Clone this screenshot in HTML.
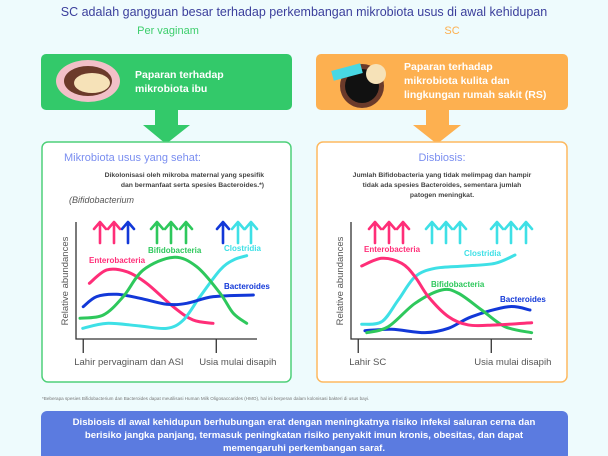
<!DOCTYPE html>
<html><head><meta charset="utf-8"><style>
body{margin:0;width:608px;height:456px;overflow:hidden;background:#eefbfd;font-family:"Liberation Sans",sans-serif;}
svg{display:block}
</style></head><body>
<svg id="s" width="608" height="456" viewBox="0 0 608 456" xmlns="http://www.w3.org/2000/svg" font-family="Liberation Sans, sans-serif">
<rect width="608" height="456" fill="#eefbfd"/>
<text x="304" y="16" text-anchor="middle" font-size="12.5" fill="#3b3f9c">SC adalah gangguan besar terhadap perkembangan mikrobiota usus di awal kehidupan</text>
<text x="168" y="34" text-anchor="middle" font-size="11" fill="#3dce6c">Per vaginam</text>
<text x="452" y="34" text-anchor="middle" font-size="11" fill="#fdb050">SC</text>

<g>
<rect x="41" y="54" width="251" height="56" rx="5" fill="#33c96a"/>
<ellipse cx="88" cy="81" rx="32" ry="21" fill="#f2c0c8"/>
<ellipse cx="88" cy="81" rx="24" ry="15" fill="#6b3a2a"/>
<ellipse cx="92" cy="83" rx="18" ry="10" fill="#f6e2b8"/>
<text x="135" y="78" font-size="10.5" font-weight="bold" fill="#fff">Paparan terhadap</text>
<text x="135" y="92" font-size="10.5" font-weight="bold" fill="#fff">mikrobiota ibu</text>
</g>
<g>
<rect x="316" y="54" width="252" height="56" rx="5" fill="#fdb050"/>
<circle cx="362" cy="86" r="22" fill="#6b3a2a"/>
<circle cx="362" cy="86" r="17" fill="#111"/>
<rect x="332" y="67" width="30" height="10" fill="#48d8e4" transform="rotate(-15 347 72)"/>
<circle cx="376" cy="74" r="10" fill="#f6e2b8"/>
<text x="404" y="70" font-size="10.5" font-weight="bold" fill="#fff">Paparan terhadap</text>
<text x="404" y="84" font-size="10.5" font-weight="bold" fill="#fff">mikrobiota kulita dan</text>
<text x="404" y="98" font-size="10.5" font-weight="bold" fill="#fff">lingkungan rumah sakit (RS)</text>
</g>
<polygon points="155,110 178,110 178,125 190,125 166,144 143,125 155,125" fill="#33c96a"/>
<polygon points="426,110 449,110 449,125 461,125 437,144 413,125 426,125" fill="#fdb050"/>

<rect x="42" y="142" width="249" height="240" rx="6" fill="#fff" stroke="#4fd07a" stroke-width="1.5"/>
<rect x="317" y="142" width="250" height="240" rx="6" fill="#fff" stroke="#fdb960" stroke-width="1.5"/>

<text x="64" y="161" font-size="11" fill="#7a8ef0">Mikrobiota usus yang sehat:</text>
<text x="264" y="177" text-anchor="end" font-size="6.8" font-weight="bold" fill="#444">Dikolonisasi oleh mikroba maternal yang spesifik</text>
<text x="264" y="187" text-anchor="end" font-size="6.8" font-weight="bold" fill="#444">dan bermanfaat serta spesies Bacteroides.*)</text>
<text x="69" y="203" font-size="9" font-style="italic" fill="#555">(Bifidobacterium</text>

<text x="442" y="161" text-anchor="middle" font-size="11" fill="#7a8ef0">Disbiosis:</text>
<text x="442" y="177" text-anchor="middle" font-size="6.8" font-weight="bold" fill="#444">Jumlah Bifidobacteria yang tidak melimpag dan hampir</text>
<text x="442" y="187" text-anchor="middle" font-size="6.8" font-weight="bold" fill="#444">tidak ada spesies Bacteroides, sementara jumlah</text>
<text x="442" y="197" text-anchor="middle" font-size="6.8" font-weight="bold" fill="#444">patogen meningkat.</text>

<g id="charts"></g>

<text x="42" y="400" font-size="4.6" fill="#777">*Beberapa spesies Bifidobacterium dan Bacteroides dapat meutilisasi Human Milk Oligosaccarides (HMO), hal ini berperan dalam kolonisasi bakteri di usus bayi.</text>
<g>
<rect x="41" y="411" width="527" height="50" rx="6" fill="#5b7be0"/>
<text x="304" y="425" text-anchor="middle" font-size="9.6" font-weight="bold" fill="#fff">Disbiosis di awal kehidupun berhubungan erat dengan meningkatnya risiko infeksi saluran cerna dan</text>
<text x="304" y="438" text-anchor="middle" font-size="9.6" font-weight="bold" fill="#fff">berisiko jangka panjang, termasuk peningkatan risiko penyakit imun kronis, obesitas, dan dapat</text>
<text x="304" y="451" text-anchor="middle" font-size="9.6" font-weight="bold" fill="#fff">memengaruhi perkembangan saraf.</text>
</g>
</svg>
<script>
// Healthy (left) series: [x, y] in 0..100 time / abundance units
const healthyEntero = [[7.4,47.6],[17,59],[28,57.5],[39,47.6],[53.7,27.6],[64.7,16.2],[75.7,13.4]];
const healthyBifido = [[2.2,17.7],[15.1,20.5],[26.1,36.2],[37.2,59],[53.8,69.8],[66.7,61.8],[79.6,39.1],[86.9,22],[94.3,13.4]];
const healthyBactero = [[4,27.6],[11.4,36.2],[22.5,38.2],[35.4,34.8],[50.1,29.7],[61.2,30.5],[75.9,36.2],[98,37.6]];
const healthyClostr = [[3.7,9.1],[17,13.4],[35.4,11.1],[50.1,9.1],[59.3,16.2],[68.5,36.2],[79.6,59],[86.9,67.5],[94.3,71.2]];
// Dysbiosis (right) series
const dysEntero = [[5.9,62.4],[17,69],[28,64.7],[35.4,53.2],[42.7,36.2],[53.8,19.1],[64.8,12],[79.6,12],[99.8,13.9]];
const dysClostr = [[5.9,12.6],[17,14.8],[26.1,33.3],[35.4,53.2],[46.4,60.4],[63,62.4],[79.6,64.7],[90.6,71.8]];
const dysBifido = [[8.7,5.4],[20.6,10.5],[35.4,30.5],[50.1,41.9],[59.3,39.1],[72.2,24.8],[85.1,10.5],[99.8,5.4]];
const dysBactero = [[7.7,7.1],[22.5,8.3],[40.9,5.4],[53.8,9.1],[66.7,19.1],[86.9,27.6],[98.9,24.8]];
const xTickLabelsLeft = ["Lahir pervaginam dan ASI","Usia mulai disapih"];
const xTickLabelsRight = ["Lahir SC","Usia mulai disapih"];
const xTickValues = [4, 77.5];

const NS="http://www.w3.org/2000/svg";
const root=document.getElementById('charts');
const COL={pink:"#ff2e78",green:"#2ec85c",blue:"#1238d8",cyan:"#3ee0e6"};
function mk(t,a,p){const e=document.createElementNS(NS,t);for(const k in a)e.setAttribute(k,a[k]);(p||root).appendChild(e);return e;}
function path(pts,sx,sy){
  const P=pts.map(p=>[sx(p[0]),sy(p[1])]);
  let d="M"+P[0][0]+","+P[0][1];
  for(let i=0;i<P.length-1;i++){
    const p0=P[i-1]||P[i],p1=P[i],p2=P[i+1],p3=P[i+2]||P[i+1];
    const c1=[p1[0]+(p2[0]-p0[0])/6,p1[1]+(p2[1]-p0[1])/6];
    const c2=[p2[0]-(p3[0]-p1[0])/6,p2[1]-(p3[1]-p1[1])/6];
    d+=" C"+c1+" "+c2+" "+p2;
  }
  return d;
}
function upArrow(x,col,g){
  const a=mk('path',{d:`M${x},243 L${x},223 M${x-6},229 L${x},222 L${x+6},229`,stroke:col,'stroke-width':2.6,fill:'none','stroke-linecap':'round','stroke-linejoin':'round'},g);
  
  
}
function chart(x0,name,series,labels,arrows,ticks){
  const g=mk('g',{});
  
  
  const sx=v=>x0+v*1.81, sy=v=>339-v*1.17;
  const ax=mk('path',{d:`M${x0},222 L${x0},339 L${x0+181},339`,stroke:'#333','stroke-width':1.3,fill:'none'},g);
  
  
  const yt=mk('text',{x:0,y:0,'font-size':9.5,fill:'#555','text-anchor':'middle',transform:`translate(${x0-8},281) rotate(-90)`},g);
  yt.textContent='Relative abundances';
  
  
  xTickValues.forEach((v,i)=>{
    const t=mk('line',{x1:sx(v),x2:sx(v),y1:339,y2:353,stroke:'#333','stroke-width':1.3},g);
    
    
    const tl=mk('text',{x:sx(v)+(i==0?-9:-17),y:365,'font-size':9.5,fill:'#555'},g);
    tl.textContent=ticks[i];
    
    
  });
  series.forEach(s=>{
    const p=mk('path',{d:path(s.d,sx,sy),stroke:s.c,'stroke-width':3,fill:'none','stroke-linecap':'round'},g);
    
    
  });
  labels.forEach(l=>{
    const t=mk('text',{x:l[1],y:l[2],'font-size':8,'font-weight':'bold',fill:l[3]},g);
    t.textContent=l[0];
    
    
  });
  arrows.forEach(a=>upArrow(a[0],a[1],g));
}
chart(76,'healthy-chart',[
  {d:healthyEntero,c:COL.pink,n:'enterobacteria-line'},
  {d:healthyClostr,c:COL.cyan,n:'clostridia-line'},
  {d:healthyBactero,c:COL.blue,n:'bacteroides-line'},
  {d:healthyBifido,c:COL.green,n:'bifidobacteria-line'}],
  [["Enterobacteria",89,263,COL.pink],["Bifidobacteria",148,253,COL.green],["Clostridia",224,251,COL.cyan],["Bacteroides",224,289,COL.blue]],
  [[100,COL.pink],[114,COL.pink],[128,COL.blue],[157,COL.green],[171,COL.green],[186,COL.green],[223,COL.blue],[238,COL.cyan],[251,COL.cyan]],
  xTickLabelsLeft);
chart(351,'dysbiosis-chart',[
  {d:dysClostr,c:COL.cyan,n:'clostridia-line'},
  {d:dysBactero,c:COL.blue,n:'bacteroides-line'},
  {d:dysBifido,c:COL.green,n:'bifidobacteria-line'},
  {d:dysEntero,c:COL.pink,n:'enterobacteria-line'}],
  [["Enterobacteria",364,252,COL.pink],["Clostridia",464,256,COL.cyan],["Bifidobacteria",431,287,COL.green],["Bacteroides",500,302,COL.blue]],
  [[375,COL.pink],[389,COL.pink],[403,COL.pink],[432,COL.cyan],[446,COL.cyan],[460,COL.cyan],[497,COL.cyan],[511,COL.cyan],[526,COL.cyan]],
  xTickLabelsRight);
</script>
</body></html>
